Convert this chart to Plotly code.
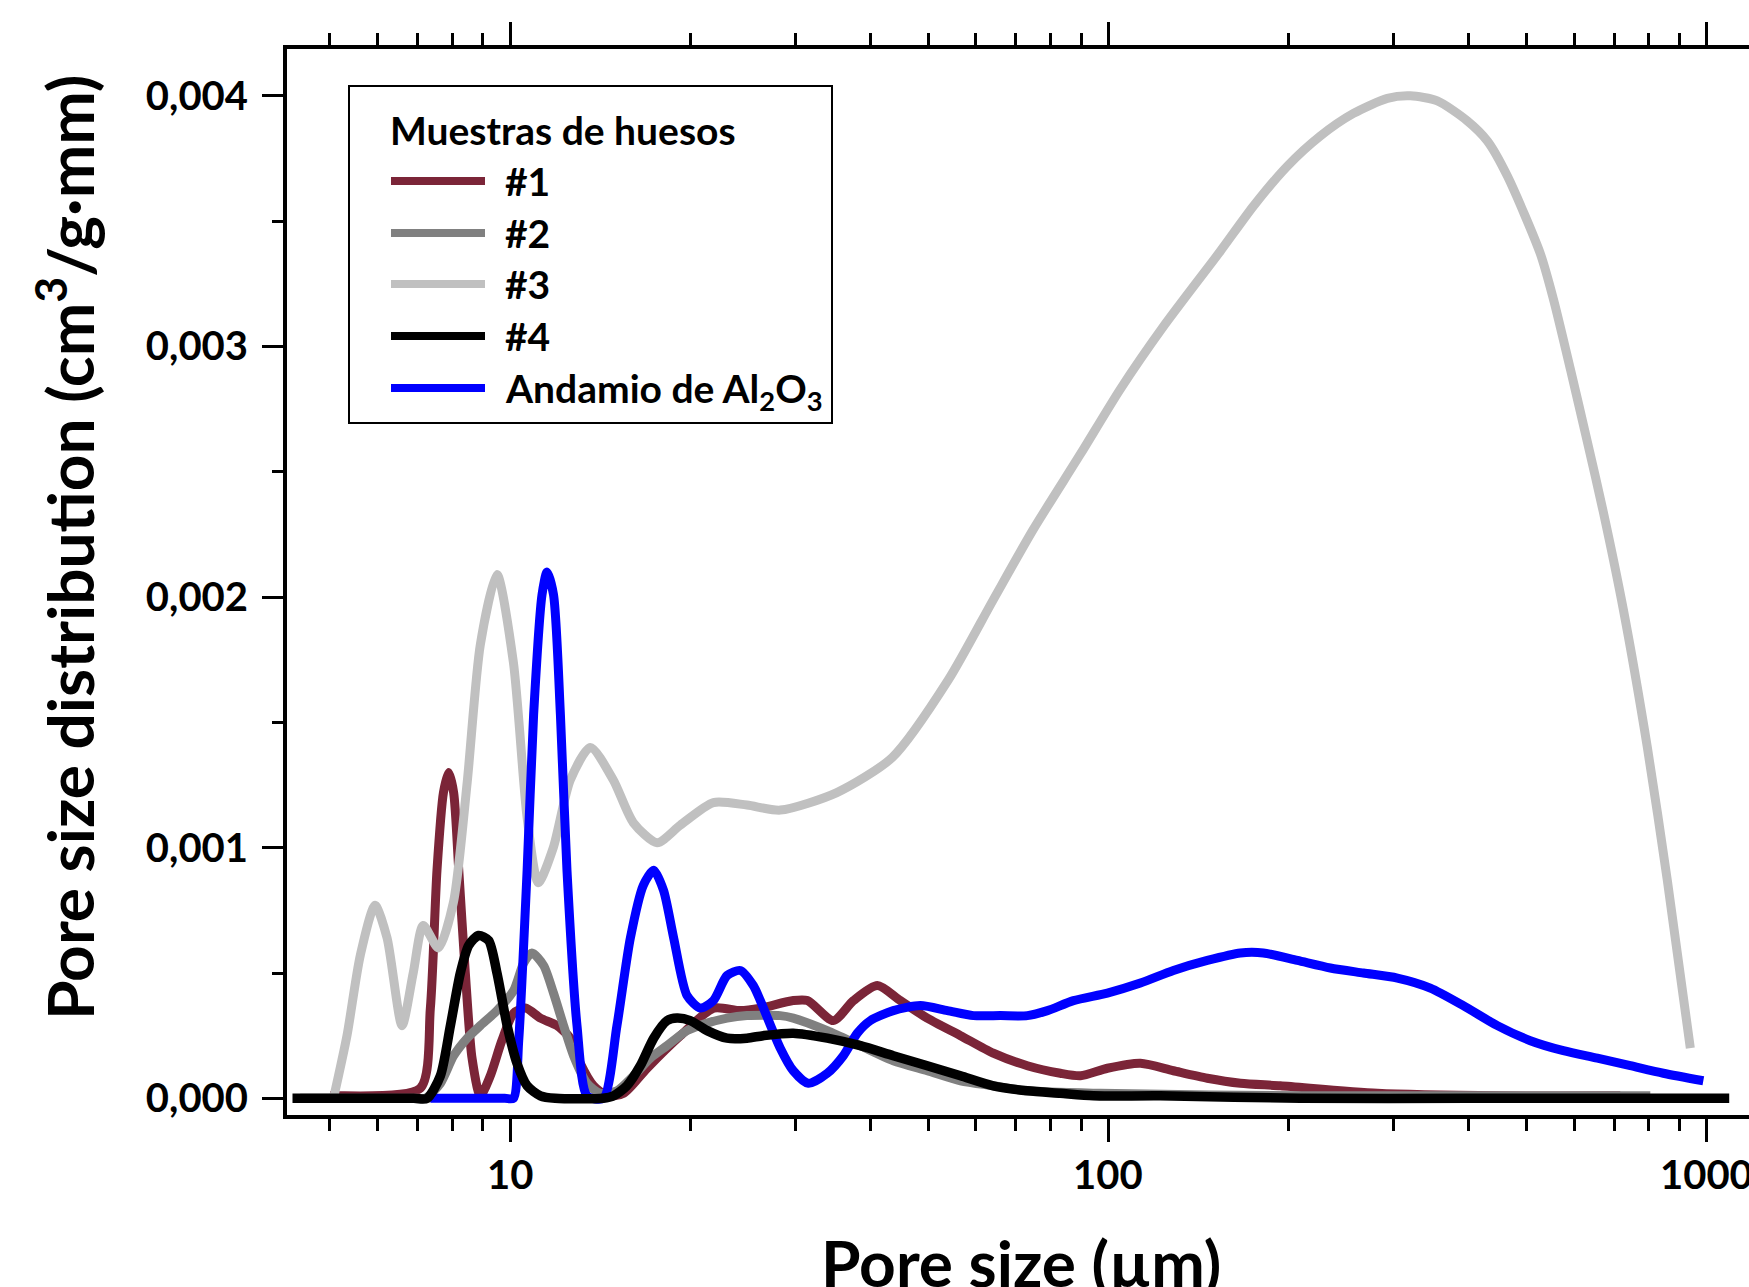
import math
import plotly.graph_objects as go

# ---------------- data ----------------
x1 = [5.0, 5.11, 7.08, 7.36, 7.55, 7.74, 7.90, 8.05, 8.21, 8.42, 8.64, 8.92, 9.27, 9.69, 10.14,
      10.61, 11.24, 11.98, 12.61, 13.10, 13.79, 14.53, 15.48, 16.94, 19.26, 21.89, 24.26, 26.2,
      29.74, 31.4, 34.7, 37.5, 41.1, 44.9, 49.8, 56.6, 64.2, 73.2, 83.1, 89.8, 99.6, 113.1, 128.4,
      146.3, 166.2, 193.8, 281.5, 451.9, 716.8]
y1 = [0.00001, 0.00001, 0.00004, 0.00036, 0.00091, 0.00122, 0.0013, 0.00122, 0.00091, 0.0005,
      0.00016, 0.00001, 0.00009, 0.00023, 0.00034, 0.00036, 0.00032, 0.00029, 0.00024, 0.00014,
      0.00005, 0.00001, 0.00002, 0.00012, 0.00025, 0.00036, 0.00035, 0.00036, 0.00039, 0.00039,
      0.00031, 0.00039, 0.00045, 0.00039, 0.00032, 0.00025, 0.00018, 0.00013, 0.0001, 0.00009,
      0.00012, 0.00014, 0.00011, 0.00008, 0.00006, 0.00005, 0.00002, 0.00001, 0.00001]

x2 = [4.46, 7.0, 7.22, 7.65, 8.05, 8.48, 8.92, 9.51, 10.14, 10.54, 10.88, 11.38, 11.82, 12.29,
      12.77, 13.45, 14.15, 15.09, 16.09, 17.16, 18.30, 19.76, 21.35, 23.05, 24.89, 28.29, 29.74,
      33.9, 38.5, 43.7, 49.8, 56.6, 64.2, 73.2, 96.9, 209.3, 804.5]
y2 = [0, 0, 0, 0.00006, 0.00017, 0.00024, 0.00029, 0.00035, 0.00043, 0.00054, 0.00058, 0.00053,
      0.00042, 0.00029, 0.00017, 0.00006, 0.00002, 0.00003, 0.00009, 0.00016, 0.00021, 0.00027,
      0.0003, 0.00032, 0.00033, 0.00033, 0.00032, 0.00027, 0.00021, 0.00015, 0.00011, 0.00007,
      0.00005, 0.00003, 0.00002, 0.00001, 0.00001]

x3 = [5.07, 5.34, 5.62, 5.95, 6.23, 6.60, 6.89, 7.16, 7.59, 8.04, 8.48, 8.92, 9.51, 10.13, 10.68,
      11.15, 11.81, 12.61, 13.62, 14.88, 16.07, 17.61, 19.26, 21.87, 24.89, 28.29, 35.17, 43.53,
      54.02, 64.23, 74.89, 89.76, 104.7, 123.6, 153.8, 174.7, 199.1, 226.0, 256.7, 292.5, 319.6,
      354.5, 398.0, 429.8, 464.2, 527.0, 554.0, 591.5, 631.4, 671.4, 725.3, 795.5, 859.0, 938.5]
y3 = [0, 0.00025, 0.00057, 0.00077, 0.00064, 0.00029, 0.0005, 0.00069, 0.0006, 0.00078, 0.00126,
      0.00181, 0.00209, 0.00174, 0.00112, 0.00086, 0.001, 0.00127, 0.0014, 0.00127, 0.0011,
      0.00102, 0.00109, 0.00118, 0.00117, 0.00115, 0.00122, 0.00136, 0.00167, 0.00199, 0.00227,
      0.00257, 0.00283, 0.00308, 0.00338, 0.00356, 0.00372, 0.00384, 0.00393, 0.00399, 0.004,
      0.00398, 0.0039, 0.00382, 0.00368, 0.00337, 0.00319, 0.00291, 0.00262, 0.00234, 0.00195,
      0.0014, 0.00087, 0.0002]

x4 = [4.33, 6.9, 7.27, 7.65, 7.95, 8.26, 8.53, 8.86, 9.21, 9.51, 9.89, 10.27, 10.68, 11.24, 11.9,
      14.3, 14.90, 15.68, 16.51, 17.38, 18.30, 19.01, 20.01, 21.35, 23.05, 24.89, 26.5, 29.74,
      33.9, 38.5, 43.7, 49.8, 56.6, 64.2, 73.2, 83.1, 94.4, 122.1, 209.3, 400.0, 1090]
y4 = [0, 0, 0, 0.00009, 0.00029, 0.0005, 0.00061, 0.00065, 0.00063, 0.0005, 0.00029, 0.00014,
      0.00005, 0.00001, 0, 0, 0.00001, 0.00005, 0.00013, 0.00024, 0.00031, 0.00032, 0.00031,
      0.00027, 0.00024, 0.00024, 0.00025, 0.00026, 0.00024, 0.00021, 0.00017, 0.00013, 0.00009,
      0.00005, 0.00003, 0.00002, 0.00001, 0.00001, 0, 0, 0]

xb = [7.36, 9.8, 10.13, 10.34, 10.68, 10.95, 11.31, 11.53, 11.82, 12.14, 12.45, 12.94, 13.45,
      14.32, 15.09, 15.89, 16.70, 17.38, 18.05, 18.77, 19.76, 20.80, 21.87, 23.05, 24.26, 25.50,
      26.20, 28.29, 29.74, 31.52, 33.9, 36.06, 38.05, 40.0, 43.7, 48.5, 53.8, 59.5, 66.0, 73.2,
      79.1, 87.4, 99.6, 113.1, 128.4, 146.3, 166.2, 181.5, 206.9, 234.9, 266.7, 304.0, 345.1,
      391.8, 446.7, 507.1, 575.7, 656.2, 745.0, 845.8, 986.7]
yb = [0, 0, 0, 0.00023, 0.00091, 0.00153, 0.00201, 0.0021, 0.00201, 0.00153, 0.00091, 0.00029,
      0.00001, 0, 0.00029, 0.00064, 0.00085, 0.00091, 0.00083, 0.00064, 0.00041, 0.00036, 0.00039,
      0.00049, 0.00051, 0.00045, 0.00039, 0.0002, 0.00011, 0.00006, 0.0001, 0.00017, 0.00026,
      0.00031, 0.00035, 0.00037, 0.00035, 0.00033, 0.00033, 0.00033, 0.00035, 0.00039, 0.00042,
      0.00046, 0.00051, 0.00055, 0.00058, 0.00058, 0.00055, 0.00052, 0.0005, 0.00048, 0.00044,
      0.00037, 0.00029, 0.00023, 0.00019, 0.00016, 0.00013, 0.0001, 0.00007]

series_names = ["#1", "#2", "#3", "#4", "Andamio de Al<sub>2</sub>O<sub>3</sub>"]
series_colors = ["#7B2538", "#808080", "#C0C0C0", "#000000", "#0000FF"]
series_x = [x1, x2, x3, x4, xb]
series_y = [y1, y2, y3, y4, yb]

x_tickvals = [10, 100, 1000]
x_ticktext = ["10", "100", "1000"]
x_minor = [5, 6, 7, 8, 9, 20, 30, 40, 50, 60, 70, 80, 90, 200, 300, 400, 500, 600, 700, 800, 900]
y_tickvals = [0, 0.001, 0.002, 0.003, 0.004]
y_minor = [0.0005, 0.0015, 0.0025, 0.0035]

legend_title = "Muestras de huesos"
x_title = "Pore size (µm)"
y_title = "Pore size distribution (cm<sup>3</sup>/g·mm)"

# ---------------- layout geometry (page pixels; body margin removed) ----------------
OFF = 0
W, H = 1749, 1287
L, T, B = 287, 49, 1115
R = W
PW, PH = R - L, B - T
DECADE_PX = 598.4
X_LO = 0.6273
X_HI = X_LO + PW / DECADE_PX


def px(xpage):
    return (xpage - OFF - L) / PW


def py(ypage):
    return (B - (ypage - OFF)) / PH


FONT = "Lato, 'Open Sans', sans-serif"

fig = go.Figure()
draw_order = [0, 1, 2, 4, 3]
for i in draw_order:
    fig.add_trace(go.Scatter(
        x=series_x[i], y=series_y[i], mode="lines", name=series_names[i],
        line=dict(color=series_colors[i], width=9 if i != 3 else 9.5,
                  shape="spline", smoothing=0.7),
        showlegend=False,
    ))

# ---------------- custom legend ----------------
shapes = [dict(type="rect", xref="paper", yref="paper",
               x0=px(349), x1=px(832), y0=py(423), y1=py(86),
               line=dict(color="black", width=2), fillcolor="rgba(0,0,0,0)")]
annotations = [dict(text=legend_title, xref="paper", yref="paper", x=px(388), y=py(130),
                    xanchor="left", yanchor="middle", showarrow=False,
                    font=dict(family=FONT, size=39, color="black", weight=700))]
item_y = [181, 233, 284, 336, 388]
for k in range(5):
    shapes.append(dict(type="line", xref="paper", yref="paper",
                       x0=px(391), x1=px(485), y0=py(item_y[k]), y1=py(item_y[k]),
                       line=dict(color=series_colors[k], width=8)))
    annotations.append(dict(text=series_names[k], xref="paper", yref="paper",
                            x=px(503), y=py(item_y[k] + (3 if k == 4 else 0)),
                            xanchor="left", yanchor="middle", showarrow=False,
                            font=dict(family=FONT, size=39, color="black", weight=700)))

# x tick labels
for v, t in zip(x_tickvals, x_ticktext):
    annotations.append(dict(text=t, xref="x", yref="paper", x=math.log10(v), y=py(1174),
                            xanchor="center", yanchor="middle", showarrow=False,
                            font=dict(family=FONT, size=40, color="black", weight=700)))

# axis titles
annotations.append(dict(text=x_title, xref="paper", yref="paper", x=px(1021), y=py(1262),
                        xanchor="center", yanchor="middle", showarrow=False,
                        font=dict(family=FONT, size=64, color="black", weight=700)))
annotations.append(dict(text=y_title, xref="paper", yref="paper", x=px(65), y=py(548),
                        xanchor="center", yanchor="middle", showarrow=False, textangle=-90,
                        font=dict(family=FONT, size=64, color="black", weight=700)))

fig.update_layout(
    template="none",
    width=W, height=H,
    margin=dict(l=L, r=W - R, t=T, b=H - B, pad=0),
    paper_bgcolor="white", plot_bgcolor="white",
    separators=",.",
    showlegend=False,
    shapes=shapes,
    annotations=annotations,
    font=dict(family=FONT, size=40, color="black"),
)

fig.update_xaxes(
    type="log", range=[X_LO, X_HI], automargin=False,
    showline=True, linecolor="black", linewidth=4, mirror="ticks",
    showgrid=False, zeroline=False,
    tickmode="array", tickvals=x_tickvals, showticklabels=False,
    ticks="outside", ticklen=23, tickwidth=3, tickcolor="black",
    minor=dict(tickmode="array", tickvals=x_minor, ticks="outside", ticklen=12,
               tickwidth=3, tickcolor="black", showgrid=False),
)
fig.update_yaxes(
    range=[-0.0000666, 0.004187], automargin=False,
    showline=True, linecolor="black", linewidth=4, mirror=False,
    showgrid=False, zeroline=False,
    tickmode="array", tickvals=y_tickvals, tickformat=".3f",
    ticks="outside", ticklen=21, tickwidth=3, tickcolor="black",
    ticklabelstandoff=6,
    tickfont=dict(family=FONT, size=40, color="black", weight=700),
    minor=dict(tickmode="array", tickvals=y_minor, ticks="outside", ticklen=11,
               tickwidth=3, tickcolor="black", showgrid=False),
)

fig.write_html(
    "out.html",
    config={"displayModeBar": False},
    post_script="document.body.style.margin='0';"
                "document.documentElement.style.overflow='hidden';"
                "document.body.style.overflow='hidden';",
)
